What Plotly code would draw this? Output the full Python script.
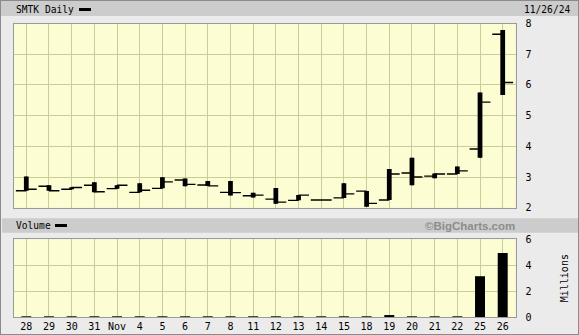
import plotly.graph_objects as go

# ---- data ----
days = ["28", "29", "30", "31", "Nov", "4", "5", "6", "7", "8", "11", "12",
        "13", "14", "15", "18", "19", "20", "21", "22", "25", "26"]
open_ = [2.55, 2.70, 2.60, 2.73, 2.62, 2.50, 2.63, 2.90, 2.74, 2.50, 2.39, 2.28,
         2.24, 2.25, 2.32, 2.54, 2.25, 3.13, 3.03, 3.10, 3.91, 7.65]
high = [3.02, 2.73, 2.67, 2.83, 2.73, 2.80, 2.99, 2.95, 2.87, 2.87, 2.49, 2.64,
        2.41, 2.25, 2.80, 2.54, 3.26, 3.63, 3.11, 3.34, 5.75, 7.79]
low = [2.55, 2.55, 2.60, 2.50, 2.62, 2.50, 2.63, 2.70, 2.71, 2.40, 2.33, 2.13,
       2.24, 2.25, 2.32, 2.03, 2.25, 2.73, 2.96, 3.10, 3.63, 5.67]
close = [2.60, 2.55, 2.66, 2.52, 2.73, 2.57, 2.84, 2.76, 2.71, 2.49, 2.41, 2.18,
         2.41, 2.25, 2.45, 2.14, 3.10, 3.00, 3.10, 3.20, 5.44, 6.08]
volume_m = [0.004, 0.003, 0.003, 0.004, 0.003, 0.003, 0.004, 0.003, 0.003, 0.004, 0.003, 0.003,
            0.003, 0.002, 0.004, 0.005, 0.15, 0.006, 0.004, 0.005, 3.15, 4.95]
price_ticks = [2, 3, 4, 5, 6, 7, 8]
vol_ticks = [0, 2, 4, 6]

W, H = 579, 335
idx = list(range(len(days)))
rng = [-0.542, 21.564]

def px_x(x):
    return x / W

def px_y(y):
    return 1 - y / H

GRID = "#cccc99"
BG = "#fdfdd4"
FONT = dict(family="DejaVu Sans Mono", size=10, color="#000000")

fig = go.Figure()

# OHLC ticks (thin)
fig.add_trace(go.Ohlc(
    x=idx, open=open_, high=high, low=low, close=close,
    increasing=dict(line=dict(color="black", width=1.4)),
    decreasing=dict(line=dict(color="black", width=1.4)),
    tickwidth=0.46, xaxis="x", yaxis="y", hoverinfo="skip", showlegend=False))

# thick high-low bodies
fig.add_trace(go.Bar(
    x=idx, y=[h - l for h, l in zip(high, low)], base=low, width=0.21,
    marker=dict(color="black", line=dict(width=0)),
    xaxis="x", yaxis="y", hoverinfo="skip", showlegend=False))

# volume
fig.add_trace(go.Bar(
    x=idx, y=volume_m, width=0.44,
    marker=dict(color="black", line=dict(width=0)),
    xaxis="x2", yaxis="y2", hoverinfo="skip", showlegend=False))

xdom = [px_x(14), px_x(515.5)]
common_x = dict(range=rng, tickvals=idx, showgrid=True, gridcolor=GRID, gridwidth=1,
                zeroline=False, showline=True, linecolor="#9a9a9a", mirror=True,
                ticks="", fixedrange=True, automargin=False)

fig.update_layout(
    width=W, height=H,
    margin=dict(l=0, r=0, t=0, b=0, autoexpand=False),
    paper_bgcolor="#ebebeb",
    plot_bgcolor=BG,
    font=FONT,
    showlegend=False,
    barmode="overlay",
    xaxis=dict(domain=xdom, anchor="y", showticklabels=False,
               rangeslider=dict(visible=False), **common_x),
    yaxis=dict(domain=[px_y(207.7), px_y(23.5)], range=[2, 8], tickvals=price_ticks,
               side="right", showgrid=True, gridcolor=GRID, zeroline=False,
               showline=True, linecolor="#9a9a9a", mirror=True, ticks="",
               ticklabelstandoff=7, anchor="x", tickfont=FONT, automargin=False),
    xaxis2=dict(domain=xdom, anchor="y2", ticktext=days, tickfont=FONT,
                **common_x),
    yaxis2=dict(domain=[px_y(317), px_y(239.3)], range=[0, 6], tickvals=vol_ticks,
                side="right", showgrid=True, gridcolor=GRID, zeroline=False,
                showline=True, linecolor="#9a9a9a", mirror=True, ticks="",
                ticklabelstandoff=7, anchor="x2", tickfont=FONT, automargin=False,
                title=dict(text="Millions", font=FONT, standoff=30)),
    shapes=[
        dict(type="rect", xref="paper", yref="paper", x0=0, x1=1,
             y0=px_y(16), y1=1, fillcolor="#cccccc", line=dict(width=0), layer="below"),
        dict(type="rect", xref="paper", yref="paper", x0=px_x(2), x1=1,
             y0=px_y(232.7), y1=px_y(218.3), fillcolor="#cccccc", line=dict(width=0),
             layer="below"),
        dict(type="rect", xref="paper", yref="paper", x0=px_x(79), x1=px_x(91),
             y0=px_y(11), y1=px_y(8), fillcolor="black", line=dict(width=0)),
        dict(type="rect", xref="paper", yref="paper", x0=px_x(55), x1=px_x(67),
             y0=px_y(227), y1=px_y(224), fillcolor="black", line=dict(width=0)),
        dict(type="rect", xref="paper", yref="paper", x0=0, x1=1, y0=0, y1=1,
             fillcolor="rgba(0,0,0,0)", line=dict(color="#8a8a8a", width=2)),
    ],
    annotations=[
        dict(text="SMTK Daily", x=px_x(13.5), y=px_y(9.5), xref="paper", yref="paper",
             xanchor="left", yanchor="middle", showarrow=False,
             font=dict(family="DejaVu Sans Mono", size=9.6, color="#000000")),
        dict(text="11/26/24", x=px_x(572), y=px_y(9.5), xref="paper", yref="paper",
             xanchor="right", yanchor="middle", showarrow=False,
             font=dict(family="DejaVu Sans Mono", size=9.6, color="#000000")),
        dict(text="Volume", x=px_x(13.5), y=px_y(225.5), xref="paper", yref="paper",
             xanchor="left", yanchor="middle", showarrow=False,
             font=dict(family="DejaVu Sans Mono", size=9.6, color="#000000")),
        dict(text="<b>©BigCharts.com</b>", x=px_x(517), y=px_y(225.5), xref="paper",
             yref="paper", xanchor="right", yanchor="middle", showarrow=False,
             font=dict(family="Liberation Sans", size=11.5, color="#8c8c8c")),
    ],
)

fig.write_html("out.html")
